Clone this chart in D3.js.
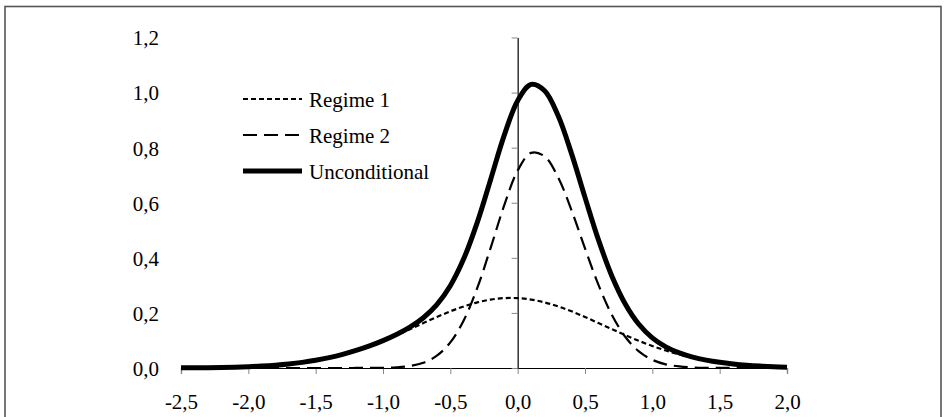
<!DOCTYPE html>
<html>
<head>
<meta charset="utf-8">
<script src="https://cdn.jsdelivr.net/npm/d3@7"></script>
<style>
    body { margin: 0; background: #fff; }
    svg text { font-family: "Liberation Serif", "Times New Roman", serif; fill: #000; }
</style>
</head>
<body>
<div id="vis"></div>
<script>
// density values, x step 0.1
var xValues = [-2.5, -2.4, -2.3, -2.2, -2.1, -2.0, -1.9, -1.8, -1.7, -1.6, -1.5, -1.4, -1.3, -1.2, -1.1,
    -1.0, -0.9, -0.8, -0.7, -0.6, -0.5, -0.4, -0.3, -0.2, -0.1, 0.0, 0.1, 0.2, 0.3, 0.4, 0.5,
    0.6, 0.7, 0.8, 0.9, 1.0, 1.1, 1.2, 1.3, 1.4, 1.5, 1.6, 1.7, 1.8, 1.9, 2.0];

var regime1 = [0.0005, 0.0008, 0.0013, 0.0020, 0.0031, 0.0047, 0.0070, 0.0102, 0.0146, 0.0204, 0.0280,
    0.0375, 0.0493, 0.0635, 0.0799, 0.0986, 0.1191, 0.1409, 0.1632, 0.1852, 0.2057, 0.2237, 0.2382,
    0.2485, 0.2537, 0.2537, 0.2485, 0.2382, 0.2237, 0.2057, 0.1852, 0.1632, 0.1409, 0.1191, 0.0986,
    0.0799, 0.0635, 0.0493, 0.0375, 0.0280, 0.0204, 0.0146, 0.0102, 0.0070, 0.0047, 0.0031];

var regime2 = [0, 0, 0, 0, 0, 0, 0, 0, 0, 0, 0, 0, 0, 0.0001, 0.0002, 0.0008, 0.0026, 0.0075, 0.0194,
    0.0448, 0.0930, 0.1735, 0.2906, 0.4372, 0.5908, 0.7169, 0.7812, 0.7685, 0.6928, 0.5727, 0.4343,
    0.3019, 0.1926, 0.1127, 0.0604, 0.0297, 0.0134, 0.0056, 0.0021, 0.0007, 0.0002, 0.0001, 0, 0, 0, 0];

var unconditional = [0.0005, 0.0008, 0.0013, 0.0020, 0.0031, 0.0047, 0.0070, 0.0102, 0.0146, 0.0204,
    0.0280, 0.0375, 0.0493, 0.0636, 0.0801, 0.0994, 0.1217, 0.1484, 0.1826, 0.2300, 0.2987, 0.3972,
    0.5288, 0.6857, 0.8445, 0.9706, 1.0297, 1.0067, 0.9165, 0.7784, 0.6195, 0.4651, 0.3335, 0.2318,
    0.1590, 0.1096, 0.0769, 0.0549, 0.0396, 0.0287, 0.0206, 0.0147, 0.0102, 0.0070, 0.0047, 0.0031];

var seriesNames = ['Regime 1', 'Regime 2', 'Unconditional'];
var xTicks = [-2.5, -2.0, -1.5, -1.0, -0.5, 0.0, 0.5, 1.0, 1.5, 2.0];
var yTicks = [0.0, 0.2, 0.4, 0.6, 0.8, 1.0, 1.2];

var W = 944, H = 417;

var svg = d3.select('#vis')
    .append('svg')
    .attr('width', W)
    .attr('height', H);

// chart frame
svg.append('rect')
    .attr('x', 5)
    .attr('y', 6.5)
    .attr('width', 936)
    .attr('height', 430)
    .attr('fill', '#fff')
    .attr('stroke', '#555')
    .attr('stroke-width', 1.6);

var xScale = d3.scaleLinear().domain([-2.5, 2.0]).range([181, 787]);
var yScale = d3.scaleLinear().domain([0, 1.2]).range([368, 37.5]);

var comma = function(v) { return d3.format('.1f')(v).replace('.', ',').replace('−', '-'); };

// x axis
var xAxis = d3.axisBottom(xScale)
    .tickValues(xTicks)
    .tickSize(6)
    .tickPadding(35)
    .tickFormat(comma);

var gx = svg.append('g')
    .attr('transform', 'translate(0,' + yScale(0) + ')')
    .call(xAxis);
gx.select('.domain').attr('stroke', '#000').attr('stroke-width', 1.2);
gx.selectAll('.tick line').attr('stroke', '#888');
gx.selectAll('.tick text').style('font-size', '21px').attr('dy', '0');

// y axis sits at x = 0
var yAxis = d3.axisLeft(yScale)
    .tickValues(yTicks)
    .tickSize(6)
    .tickSizeOuter(0)
    .tickFormat(comma);

var gy = svg.append('g')
    .attr('transform', 'translate(' + xScale(0) + ',0)')
    .call(yAxis);
gy.select('.domain').attr('stroke', '#000').attr('stroke-width', 1.2);
gy.selectAll('.tick line').attr('stroke', '#888');
gy.selectAll('.tick text')
    .style('font-size', '21px')
    .attr('x', 159 - xScale(0))
    .attr('dy', '0.35em');

var styles = [
    { width: 2.2, dash: '5,3' },
    { width: 2.2, dash: '14,7' },
    { width: 5, dash: null }
];
var seriesData = [regime1, regime2, unconditional];

var line = d3.line()
    .x(function(d, i) { return xScale(xValues[i]); })
    .y(function(d) { return yScale(d); })
    .curve(d3.curveCatmullRom.alpha(0.5));

seriesData.forEach(function(s, k) {
    svg.append('path')
        .datum(s)
        .attr('d', line)
        .attr('fill', 'none')
        .attr('stroke', '#000')
        .attr('stroke-width', styles[k].width)
        .attr('stroke-dasharray', styles[k].dash)
        .attr('stroke-linejoin', 'round');
});

// legend
var legend = svg.append('g').attr('transform', 'translate(243,99)');
seriesNames.forEach(function(name, k) {
    var y = k * 36;
    legend.append('line')
        .attr('x1', 0).attr('x2', 59)
        .attr('y1', y).attr('y2', y)
        .attr('stroke', '#000')
        .attr('stroke-width', styles[k].width)
        .attr('stroke-dasharray', styles[k].dash);
    legend.append('text')
        .attr('x', 66)
        .attr('y', y + 8)
        .style('font-size', '21px')
        .text(name);
});
</script>
</body>
</html>
